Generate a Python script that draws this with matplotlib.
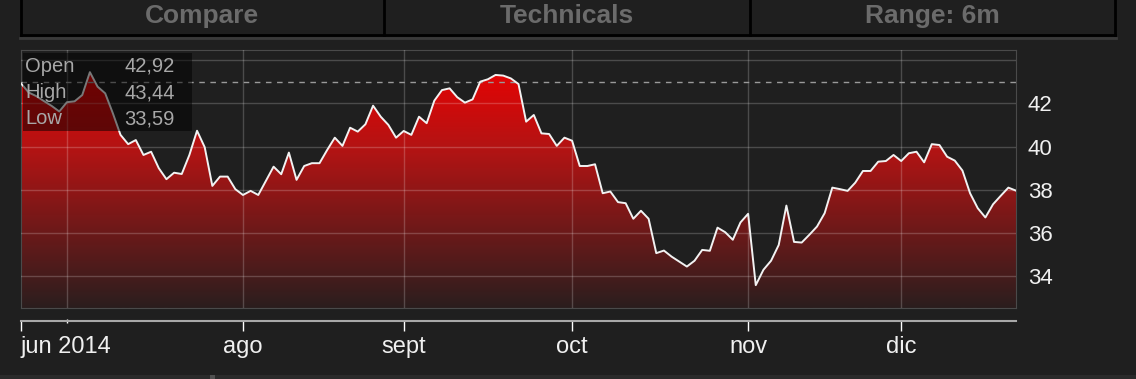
import numpy as np
import matplotlib
matplotlib.use("Agg")
import matplotlib.pyplot as plt
from matplotlib.patches import Rectangle, Polygon
from matplotlib.lines import Line2D
from matplotlib.colors import LinearSegmentedColormap

plt.rcParams['font.family'] = ['Liberation Sans', 'DejaVu Sans']

# daily closes (6 months of trading days)
close = [
    42.92, 42.50, 42.33, 42.10, 41.88, 41.62, 42.05, 42.09, 42.38, 43.44,
    42.77, 42.46, 41.54, 40.54, 40.11, 40.30, 39.61, 39.76, 39.00, 38.49,
    38.79, 38.73, 39.61, 40.73, 39.97, 38.18, 38.61, 38.61, 38.03, 37.76,
    37.95, 37.76, 38.42, 39.07, 38.72, 39.72, 38.46, 39.10, 39.23, 39.23,
    39.84, 40.41, 40.03, 40.87, 40.69, 41.03, 41.89, 41.38, 41.00, 40.41,
    40.72, 40.54, 41.38, 41.08, 42.12, 42.61, 42.69, 42.28, 42.03, 42.18,
    43.00, 43.11, 43.31, 43.28, 43.15, 42.89, 41.15, 41.46, 40.61, 40.58,
    40.03, 40.41, 40.27, 39.10, 39.10, 39.18, 37.84, 37.92, 37.43, 37.38,
    36.66, 37.03, 36.66, 35.07, 35.19, 34.91, 34.68, 34.45, 34.72, 35.22,
    35.18, 36.25, 36.04, 35.69, 36.49, 36.89, 33.59, 34.30, 34.72, 35.45,
    37.27, 35.59, 35.56, 35.92, 36.30, 36.92, 38.10, 38.03, 37.95, 38.33,
    38.87, 38.87, 39.30, 39.33, 39.61, 39.33, 39.69, 39.76, 39.27, 40.11,
    40.07, 39.53, 39.35, 38.89, 37.84, 37.15, 36.72, 37.33, 37.72, 38.10,
    37.96,
]
month_pos = [0, 29, 50, 72, 95, 115]
month_labels = ['jun 2014', 'ago', 'sept', 'oct', 'nov', 'dic']
jul_pos = 6
price_ticks = [34, 36, 38, 40, 42, 44]
price_labels = ['34', '36', '38', '40', '42', '']
prev_close = 43.0
stat_names = ['Open', 'High', 'Low']
stat_values = ['42,92', '43,44', '33,59']
buttons = ['Compare', 'Technicals', 'Range: 6m']

W, H = 1136, 379
BG = '#1f1f1f'
fig = plt.figure(figsize=(W / 100, H / 100), dpi=100, facecolor=BG)


def fx(px):
    return px / W


def fy(py):
    return 1 - py / H


# main chart
ax = fig.add_axes([fx(21), fy(308.3), fx(995), (308.3 - 50.3) / H])
ax.set_facecolor(BG)
x = np.arange(len(close))
ymin, ymax = 32.52, 44.45
ax.set_xlim(0, len(close) - 1)
ax.set_ylim(ymin, ymax)

cmap = LinearSegmentedColormap.from_list(
    'fade', [(0, '#2b1e1e'), (0.6, '#b01414'), (1, '#f20000')])
grad = np.linspace(1, 0, 256).reshape(-1, 1)
im = ax.imshow(grad, extent=[0, len(close) - 1, ymin, ymax], aspect='auto',
               cmap=cmap, vmin=0, vmax=1, zorder=1)
poly = Polygon([(0, ymin)] + list(zip(x, close)) + [(x[-1], ymin)],
               closed=True, fc='none', ec='none')
ax.add_patch(poly)
im.set_clip_path(poly)

ax.plot(x, close, color='#f2f2f2', lw=1.4, zorder=4)
ax.axhline(prev_close, color='#9a9a9a', lw=1, ls=(0, (4, 4)), zorder=3)

ax.set_xticks([jul_pos] + month_pos[1:])
ax.tick_params(axis='x', length=0, labelbottom=False)
ax.set_yticks(price_ticks)
ax.set_yticklabels(price_labels)
ax.yaxis.tick_right()
ax.tick_params(axis='y', length=0, pad=8.5, labelsize=16, labelcolor='#f0f0f0')
ax.set_axisbelow(False)
ax.grid(True, color='white', alpha=0.2, lw=1)
for s in ax.spines.values():
    s.set_color('#4a4a4a')

# date axis below the chart
ax2 = fig.add_axes([fx(21), fy(321), fx(995), 0.0001])
ax2.set_xlim(0, len(close) - 1)
ax2.patch.set_visible(False)
ax2.set_yticks([])
for side in ['left', 'right', 'top']:
    ax2.spines[side].set_visible(False)
ax2.spines['bottom'].set_color('#a8a8a8')
ax2.spines['bottom'].set_linewidth(1.5)
ax2.set_xticks(month_pos)
ax2.set_xticklabels(month_labels)
ax2.set_xticks([jul_pos], minor=True)
ax2.tick_params(which='major', direction='out', length=7, width=1, color='white',
                pad=4, labelsize=17, labelcolor='#f0f0f0')
ax2.tick_params(which='minor', direction='inout', length=3, width=1, color='white')
ax2.get_xticklabels()[0].set_ha('left')

# open / high / low box
fig.add_artist(Rectangle((fx(23), fy(131)), fx(169), (131 - 53) / H,
                         transform=fig.transFigure, fc='black', alpha=0.5,
                         ec='none', zorder=5))
for name, val, py in zip(stat_names, stat_values, [66, 93, 119]):
    fig.text(fx(25), fy(py), name, va='center', ha='left', fontsize=14.5,
             color='#a8a8a8', zorder=6)
    fig.text(fx(175), fy(py), val, va='center', ha='right', fontsize=14.5,
             color='#a8a8a8', zorder=6)

# top buttons
for bx in [21, 384, 750, 1115]:
    fig.add_artist(Line2D([fx(bx), fx(bx)], [fy(0), fy(35)], color='black', lw=2,
                          transform=fig.transFigure))
fig.add_artist(Line2D([fx(21), fx(1115)], [fy(35), fy(35)], color='black', lw=2,
                      transform=fig.transFigure))
fig.add_artist(Line2D([fx(20), fx(1116)], [fy(38), fy(38)], color='#3a3a3a', lw=2,
                      transform=fig.transFigure))
for label, cx in zip(buttons, [202, 567, 932]):
    fig.text(fx(cx), fy(23), label, ha='center', va='baseline', fontsize=19,
             fontweight='bold', color='#6b6b6b')

# bottom strip
fig.add_artist(Rectangle((0, 0), 1, 4 / H, transform=fig.transFigure,
                         fc='#2a2a2a', ec='none'))
fig.add_artist(Rectangle((fx(210), 0), fx(5), 4 / H, transform=fig.transFigure,
                         fc='#505050', ec='none'))

fig.savefig('out.png', dpi=100, facecolor=BG)
